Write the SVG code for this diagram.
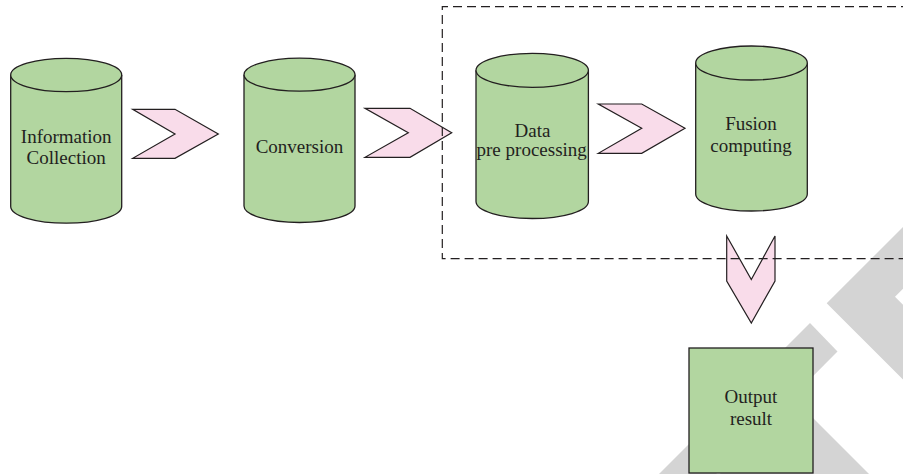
<svg xmlns="http://www.w3.org/2000/svg" width="903" height="474" viewBox="0 0 903 474">
<style>
.wm{fill:#d4d4d4;stroke:none}
.db{fill:#b2d6a0;stroke:#231f20;stroke-width:1.3}
.arr{fill:#f9dcea;stroke:#231f20;stroke-width:1.2;stroke-linejoin:miter}
.lbl{font-family:"Liberation Serif","Times New Roman",serif;font-size:19px;fill:#231f20;text-anchor:middle}
.grp{fill:none;stroke:#231f20;stroke-width:1.2;stroke-dasharray:9 5}
</style>
<rect width="903" height="474" fill="#ffffff"/>
<g id="watermark">
<polygon class="wm" points="810,323 837.5,351.5 716,474 659,474"/>
<polygon class="wm" points="780,385 869,474 720,474"/>
<polygon class="wm" points="826.7,303.3 910,220 910,281.7 895,296.7 910,311.7 910,386.6"/>
</g>
<g id="node-information-collection">
<path class="db" d="M10.7,75 V206.5 A55.5,16.7 0 0 0 121.7,206.5 V75"/>
<ellipse class="db" cx="66.2" cy="75" rx="55.5" ry="16.7"/>
<text class="lbl" x="66.2" y="142.7">Information</text>
<text class="lbl" x="66.2" y="164">Collection</text>
</g>
<g id="node-conversion">
<path class="db" d="M244,74.7 V206 A55.5,16.5 0 0 0 355,206 V74.7"/>
<ellipse class="db" cx="299.5" cy="74.7" rx="55.5" ry="16.5"/>
<text class="lbl" x="299.5" y="153.3">Conversion</text>
</g>
<g id="node-data-preprocessing">
<path class="db" d="M476,70.3 V201.5 A56.2,17 0 0 0 588.4,201.5 V70.3"/>
<ellipse class="db" cx="532.2" cy="70.3" rx="56.2" ry="17"/>
<text class="lbl" x="532.5" y="137">Data</text>
<text class="lbl" x="531.7" y="156">pre processing</text>
</g>
<g id="node-fusion-computing">
<path class="db" d="M695.7,63 V194 A55.8,17 0 0 0 807.3,194 V63"/>
<ellipse class="db" cx="751.5" cy="63" rx="55.8" ry="17"/>
<text class="lbl" x="751" y="129.5">Fusion</text>
<text class="lbl" x="751" y="151.5">computing</text>
</g>
<g id="node-output-result">
<rect class="db" x="689" y="348" width="124" height="125"/>
<text class="lbl" x="751" y="402.7">Output</text>
<text class="lbl" x="751" y="424.5">result</text>
</g>
<g id="connectors">
<polygon class="arr" points="132.7,109.3 175,109.3 218.3,134 175,158.3 132.7,158.3 175,134"/>
<polygon class="arr" points="365,108.3 410,108.3 451.7,132.7 410,157.3 365,157.3 408.3,132.7"/>
<polygon class="arr" points="598.3,104 641.7,104 685,128.3 641.7,153.3 598.3,153.3 641.7,128.3"/>
<polygon class="arr" points="726.7,236 751.3,279.5 775,236 775,281 751.3,323 726.7,281"/>
</g>
<g id="processing-boundary">
<path class="grp" d="M910,6.7 H442.3 V258.7 H910"/>
</g>
</svg>
